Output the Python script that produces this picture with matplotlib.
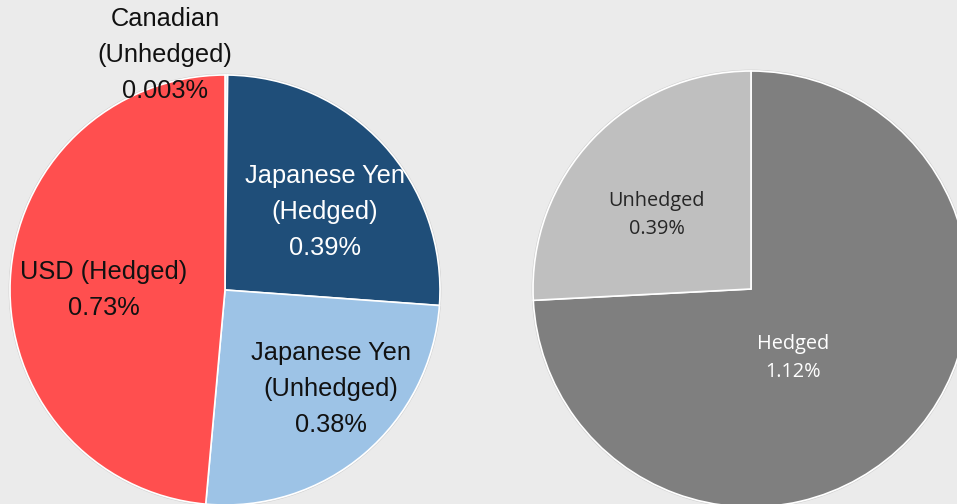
import matplotlib
matplotlib.use("Agg")
import matplotlib.pyplot as plt

# ---- data ----
left_names = ["Canadian\n(Unhedged)", "Japanese Yen\n(Hedged)", "Japanese Yen\n(Unhedged)", "USD (Hedged)"]
left_values = [0.003, 0.39, 0.38, 0.73]
left_labels = ["0.003%", "0.39%", "0.38%", "0.73%"]
left_colors = ["#DCE6F2", "#1F4E79", "#9DC3E6", "#FF4F4F"]
left_text_colors = ["#111111", "white", "#111111", "#111111"]

right_names = ["Hedged", "Unhedged"]
right_values = [1.12, 0.39]
right_labels = ["1.12%", "0.39%"]
right_colors = ["#7F7F7F", "#BFBFBF"]
right_text_colors = ["white", "#262626"]

W, H = 957, 504
BG = "#EBEBEB"

fig = plt.figure(figsize=(W / 100, H / 100), dpi=100, facecolor=BG)
ax = fig.add_axes([0, 0, 1, 1])
ax.set_facecolor(BG)


def Y(y):
    return H - y


wl, _ = ax.pie(left_values, colors=left_colors, startangle=90, counterclock=False,
               center=(225, Y(290)), radius=215,
               wedgeprops=dict(edgecolor="white", linewidth=1.2))
wr, _ = ax.pie(right_values, colors=right_colors, startangle=90, counterclock=False,
               center=(751, Y(289)), radius=218,
               wedgeprops=dict(edgecolor="white", linewidth=1.2))

# outer subtle rims
for c, r in [((225, Y(290)), 215.8), ((751, Y(289)), 218.8)]:
    ax.add_patch(plt.Circle(c, r, fill=False, edgecolor="#CFCFCF", linewidth=0.8, zorder=0.5))

# left labels
left_pos = [(165, 55), (325, 212), (331, 389), (104, 290)]
for i, (name, lab) in enumerate(zip(left_names, left_labels)):
    x, y = left_pos[i]
    t = ax.text(x, Y(y), f"{name}\n{lab}", ha="center", va="center",
                color=left_text_colors[i], fontsize=18.3, family="Liberation Sans",
                linespacing=1.62)
    if i == 1:
        t.set_clip_path(wl[1])

# right labels
right_pos = [(793, 358), (657, 215)]
for i, (name, lab) in enumerate(zip(right_names, right_labels)):
    x, y = right_pos[i]
    ax.text(x, Y(y), f"{name}\n{lab}", ha="center", va="center",
            color=right_text_colors[i], fontsize=14.3, family="Open Sans",
            linespacing=1.5)

ax.set_xlim(0, W)
ax.set_ylim(0, H)
ax.set_aspect("equal")
ax.axis("off")

fig.savefig("out.png", dpi=100, facecolor=BG)
